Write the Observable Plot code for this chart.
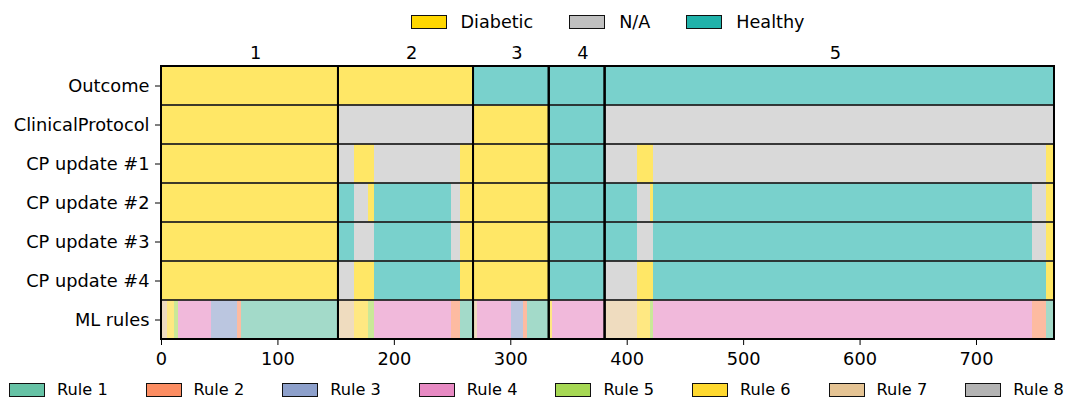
<!DOCTYPE html>
<html>
<head>
<meta charset="utf-8">
<script src="https://cdn.jsdelivr.net/npm/d3@7"></script>
<script src="https://cdn.jsdelivr.net/npm/@observablehq/plot@0.6"></script>
<style>
  html, body { margin: 0; padding: 0; background: #fff; }
  body { font-family: "DejaVu Sans", sans-serif; color: #000; width: 1065px; height: 401px; overflow: hidden; }
  .legend-top { height: 40px; box-sizing: border-box; padding-left: 161px; padding-right: 11px; display: flex; justify-content: center; align-items: center; gap: 36px; font-size: 17.6px; padding-top: 4px; }
  .legend-bottom { height: 31px; box-sizing: border-box; padding-left: 9px; display: grid; grid-template-columns: repeat(8, 136.6px); align-items: center; font-size: 16.2px; padding-top: 8px; }
  .item { display: flex; align-items: center; white-space: nowrap; }
  .sw { width: 36px; height: 14px; box-sizing: border-box; border: 1.5px solid #111; margin-right: 14px; }
  .legend-bottom .sw { margin-right: 12px; }
  svg { display: block; }
</style>
</head>
<body>
<div class="legend-top" id="legendTop"></div>
<div id="chart"></div>
<div class="legend-bottom" id="legendBottom"></div>
<script>
// ---- data ----
const rows = ["Outcome", "ClinicalProtocol", "CP update #1", "CP update #2", "CP update #3", "CP update #4", "ML rules"];
const states = ["Diabetic", "N/A", "Healthy"];
const stateColors = ["#FFD700", "#C0C0C0", "#20B2AA"];
const rules = ["Rule 1", "Rule 2", "Rule 3", "Rule 4", "Rule 5", "Rule 6", "Rule 7", "Rule 8"];
const ruleColors = ["#66c2a5", "#fc8d62", "#8da0cb", "#e78ac3", "#a6d854", "#ffd92f", "#e5c494", "#b3b3b3"];
const groupLabels = ["1", "2", "3", "4", "5"];
const groupBounds = [0, 152, 268, 333, 381, 767];
const xTicks = [0, 100, 200, 300, 400, 500, 600, 700];

// runs per row: [start, end, category]
const outcomeRuns = [[0, 268, "Diabetic"], [268, 767, "Healthy"]];
const clinicalRuns = [[0, 152, "Diabetic"], [152, 268, "N/A"], [268, 333, "Diabetic"], [333, 381, "Healthy"], [381, 767, "N/A"]];
const cp1Runs = [[0, 152, "Diabetic"], [152, 166, "N/A"], [166, 183, "Diabetic"], [183, 257, "N/A"], [257, 333, "Diabetic"],
  [333, 381, "Healthy"], [381, 409, "N/A"], [409, 423, "Diabetic"], [423, 760, "N/A"], [760, 767, "Diabetic"]];
const cp2Runs = [[0, 152, "Diabetic"], [152, 166, "Healthy"], [166, 178, "N/A"], [178, 183, "Diabetic"], [183, 249, "Healthy"],
  [249, 257, "N/A"], [257, 333, "Diabetic"], [333, 409, "Healthy"], [409, 420, "N/A"], [420, 423, "Diabetic"],
  [423, 748, "Healthy"], [748, 760, "N/A"], [760, 767, "Diabetic"]];
const cp3Runs = [[0, 152, "Diabetic"], [152, 166, "Healthy"], [166, 183, "N/A"], [183, 249, "Healthy"], [249, 257, "N/A"],
  [257, 333, "Diabetic"], [333, 409, "Healthy"], [409, 423, "N/A"], [423, 748, "Healthy"], [748, 760, "N/A"], [760, 767, "Diabetic"]];
const cp4Runs = [[0, 152, "Diabetic"], [152, 166, "N/A"], [166, 183, "Diabetic"], [183, 257, "Healthy"], [257, 333, "Diabetic"],
  [333, 381, "Healthy"], [381, 409, "N/A"], [409, 423, "Diabetic"], [423, 760, "Healthy"], [760, 767, "Diabetic"]];
const mlRuns = [[0, 5, "Rule 7"], [5, 11, "Rule 6"], [11, 15, "Rule 5"], [15, 43, "Rule 4"], [43, 65, "Rule 3"], [65, 69, "Rule 2"],
  [69, 152, "Rule 1"], [152, 166, "Rule 7"], [166, 178, "Rule 6"], [178, 183, "Rule 5"], [183, 249, "Rule 4"], [249, 257, "Rule 2"],
  [257, 268, "Rule 1"], [268, 271, "Rule 7"], [271, 301, "Rule 4"], [301, 311, "Rule 3"], [311, 314, "Rule 2"], [314, 333, "Rule 1"],
  [333, 336, "Rule 6"], [336, 381, "Rule 4"], [381, 409, "Rule 7"], [409, 420, "Rule 6"], [420, 423, "Rule 5"], [423, 748, "Rule 4"],
  [748, 760, "Rule 2"], [760, 767, "Rule 1"]];
const rowRuns = [outcomeRuns, clinicalRuns, cp1Runs, cp2Runs, cp3Runs, cp4Runs, mlRuns];

// ---- build tables ----
const cells = rows.flatMap((r, i) => rowRuns[i].map(([a, b, c]) => ({row: r, x1: a, x2: b, cat: c})));
const groups = groupLabels.map((g, i) => ({label: g, x1: groupBounds[i], x2: groupBounds[i + 1]}));
const boxes = groups.flatMap(g => rows.map(r => ({row: r, x1: g.x1, x2: g.x2})));

const chart = Plot.plot({
  width: 1065,
  height: 330,
  marginLeft: 161,
  marginRight: 11,
  marginTop: 26,
  marginBottom: 31,
  style: {fontFamily: "DejaVu Sans, sans-serif", fontSize: "17.8px", color: "#000", background: "#fff"},
  x: {domain: [groupBounds[0], groupBounds[groupBounds.length - 1]], ticks: xTicks, tickSize: 6, tickPadding: 7, label: null},
  y: {domain: rows, padding: 0, tickSize: 6, tickPadding: 6, label: null},
  color: {domain: [...states, ...rules], range: [...stateColors, ...ruleColors]},
  marks: [
    Plot.barX(cells, {x1: "x1", x2: "x2", y: "row", fill: "cat", fillOpacity: 0.6, inset: 0, shapeRendering: "crispEdges"}),
    Plot.barX(boxes, {x1: "x1", x2: "x2", y: "row", fill: "none", stroke: "#222", strokeWidth: 1.3, inset: 0}),
    Plot.barX(groups, {x1: "x1", x2: "x2", fill: "none", stroke: "#000", strokeWidth: 2, inset: 0}),
    Plot.text(groups, {x: d => (d.x1 + d.x2) / 2, text: "label", frameAnchor: "top", textAnchor: "start", lineAnchor: "middle", dy: -13, fontSize: 17.8})
  ]
});
document.getElementById("chart").appendChild(chart);

// ---- legends ----
function addItem(container, label, color) {
  const it = document.createElement("div");
  it.className = "item";
  const sw = document.createElement("span");
  sw.className = "sw";
  sw.style.background = color;
  const tx = document.createElement("span");
  tx.textContent = label;
  it.appendChild(sw);
  it.appendChild(tx);
  container.appendChild(it);
}
const lt = document.getElementById("legendTop");
states.forEach((s, i) => addItem(lt, s, stateColors[i]));
const lb = document.getElementById("legendBottom");
rules.forEach((s, i) => addItem(lb, s, ruleColors[i]));
</script>
</body>
</html>
